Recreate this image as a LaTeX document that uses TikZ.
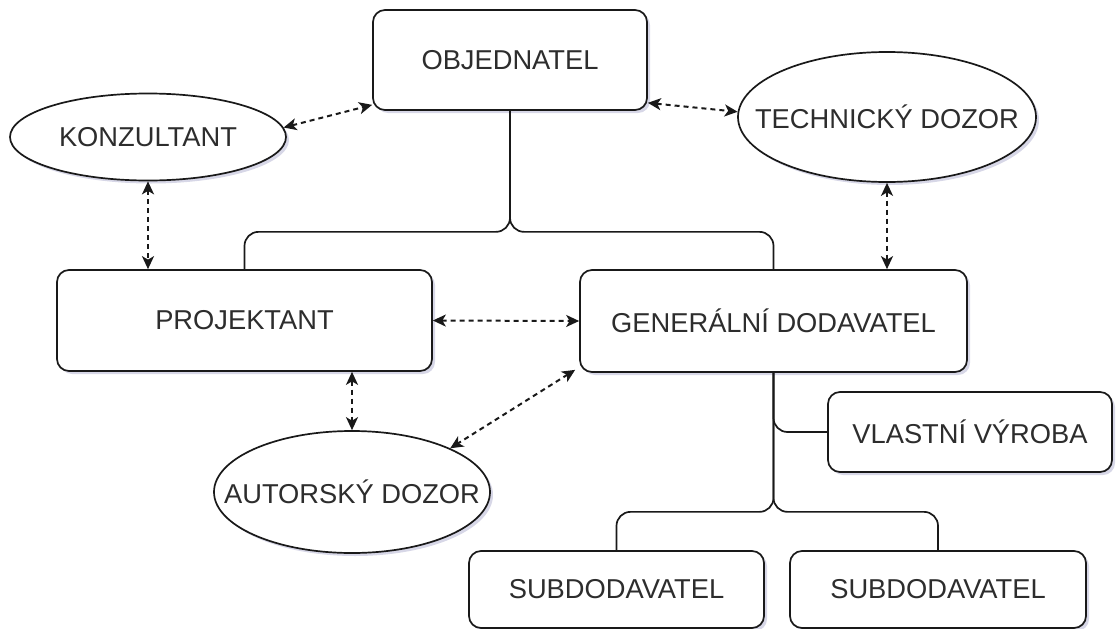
\documentclass[tikz,border=0pt]{standalone}
\usepackage{fontspec}
\setmainfont{Liberation Sans}
\usetikzlibrary{shapes.geometric,arrows.meta,shadows,calc}
\definecolor{txt}{RGB}{45,45,45}
\definecolor{ln}{RGB}{25,25,25}
\definecolor{shd}{RGB}{140,140,185}
\begin{document}
\begin{tikzpicture}[x=1pt,y=-1pt,
  shd/.style={drop shadow={shadow xshift=3pt,shadow yshift=-3pt,fill=shd,opacity=0.35}},
  lbl/.style={text=txt,font=\fontsize{27.3}{31}\selectfont,inner sep=0pt},
  box/.style={draw=ln,line width=1.7pt,rounded corners=12pt,fill=white,inner sep=0pt,
    text=txt,font=\fontsize{27.3}{31}\selectfont,shd},
  ell/.style={ellipse,draw=ln,line width=1.7pt,fill=white,inner sep=0pt,shd},
  dlink/.style={draw=ln,line width=2pt,dash pattern=on 5pt off 4pt,
    {Stealth[length=13pt,width=12pt,inset=3.5pt]}-{Stealth[length=13pt,width=12pt,inset=3.5pt]}},
  tree/.style={draw=ln,line width=1.7pt,rounded corners=14pt}]
\useasboundingbox (0,0) rectangle (1119,629);

\node[box,minimum width=274pt,minimum height=100pt] (obj) at (510,60) {OBJEDNATEL};
\node[box,minimum width=375pt,minimum height=101pt] (proj) at (244.5,320.5) {PROJEKTANT};
\node[box,minimum width=387pt,minimum height=102pt] (gd) at (773.5,321) {GENERÁLNÍ DODAVATEL};
\node[box,minimum width=284pt,minimum height=80pt] (vv) at (970,432) {VLASTNÍ VÝROBA};
\node[box,minimum width=295pt,minimum height=77pt] (sub1) at (616.5,589.5) {SUBDODAVATEL};
\node[box,minimum width=296pt,minimum height=77pt] (sub2) at (938,589.5) {SUBDODAVATEL};
\node[ell,minimum width=276pt,minimum height=87pt,label={[lbl]center:KONZULTANT}] (konz) at (148,137) {};
\node[ell,minimum width=298pt,minimum height=130pt,label={[lbl]center:TECHNICKÝ DOZOR}] (tech) at (887,117) {};
\node[ell,minimum width=276pt,minimum height=122pt,label={[lbl]center:AUTORSKÝ DOZOR}] (aut) at (352,492) {};

\draw[tree] (obj.south) -- ++(0,121) -| (proj.north);
\draw[tree] (obj.south) -- ++(0,121) -| (gd.north);
\draw[tree] (gd.south) |- (vv.west);
\draw[tree] (gd.south) -- ++(0,139) -| (sub1.north);
\draw[tree] (gd.south) -- ++(0,139) -| (sub2.north);

\draw[dlink] (konz.4) -- ($(obj.south west)+(0,-6)$);
\draw[dlink] ($(obj.south east)+(0,-8)$) -- (tech.178);
\draw[dlink] (konz.south) -- (konz.south |- proj.north);
\draw[dlink] (tech.south) -- (tech.south |- gd.north);
\draw[dlink] (proj.east) -- (gd.west);
\draw[dlink] (aut.north |- proj.south) -- (aut.north);
\draw[dlink] ($(gd.south west)+(-4,-3)$) -- (aut.24);
\end{tikzpicture}
\end{document}
